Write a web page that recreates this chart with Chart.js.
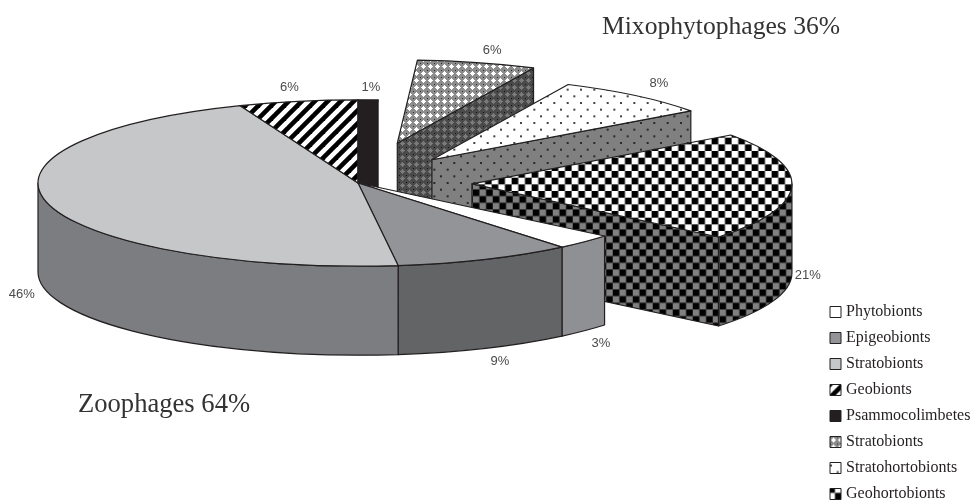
<!doctype html>
<html>

<head>
	<title>Trophic groups</title>
	<script src="https://cdnjs.cloudflare.com/ajax/libs/Chart.js/4.4.1/chart.umd.min.js"></script>
	<style>
	html, body { margin: 0; padding: 0; background: #fff; }
	canvas { display: block; }
	</style>
</head>

<body>
	<canvas id="canvas" width="972" height="501"></canvas>
	<script>
		const categories = ["Phytobionts", "Epigeobionts", "Stratobionts", "Geobionts", "Psammocolimbetes", "Stratobionts", "Stratohortobionts", "Geohortobionts"];
		const shares = [3, 9, 46, 6, 1, 6, 8, 21];
		const explode = [0, 0, 0, 0, 0, 158, 116, 114];
		const groupTitles = ["Mixophytophages 36%", "Zoophages 64%"];

		// flattening of the disc and thickness of the slab
		const SQUASH = 0.26;
		const WALL = 89;
		const INK = "#231f20";
		// small hand adjustments so the percentages clear the edges
		const labelNudge = [[-1, 3], [5, 0], [-2, -2], [-4, 0], [2, 2], [9, 1], [7, -1], [-9, -1]];

		function tile(size, paint) {
			const c = document.createElement("canvas");
			c.width = c.height = size;
			paint(c.getContext("2d"), size);
			return c.getContext("2d").createPattern(c, "repeat");
		}

		function checks(light, dark, shiftX, shiftY) {
			const p = tile(40, (g, s) => {
				g.fillStyle = light;
				g.fillRect(0, 0, s, s);
				g.fillStyle = dark;
				const cell = s / 6;
				for (let i = 0; i < 6; i++) {
					for (let j = 0; j < 6; j++) {
						if ((i + j) % 2 == 0) g.fillRect(i * cell, j * cell, cell, cell);
					}
				}
			});
			p.setTransform(new DOMMatrix().translate(shiftX, shiftY));
			return p;
		}

		function dots(back, dot) {
			return tile(40, (g, s) => {
				g.fillStyle = back;
				g.fillRect(0, 0, s, s);
				g.fillStyle = dot;
				const step = s / 3;
				for (let i = 0; i < 6; i++) {
					for (let j = 0; j < 6; j++) {
						if ((i + j) % 2 == 0) g.fillRect(i * step / 2, j * step / 2 + 2, 2, 2);
					}
				}
			});
		}

		function lattice(back, cross, dot) {
			return tile(7, g => {
				g.fillStyle = back;
				g.fillRect(0, 0, 7, 7);
				g.fillStyle = cross;
				g.fillRect(2, 2, 3, 3);
				g.fillRect(3, 1, 1, 5);
				g.fillRect(1, 3, 5, 1);
				g.fillStyle = dot;
				g.fillRect(0, 0, 1, 1);
			});
		}

		const stripes = tile(13, g => {
			g.fillStyle = "#fff";
			g.fillRect(0, 0, 13, 13);
			g.strokeStyle = "#000";
			g.lineWidth = 4.6;
			[-13, 0, 13].forEach(o => {
				g.beginPath();
				g.moveTo(o - 3, 16);
				g.lineTo(o + 16, -3);
				g.stroke();
			});
		});

		const topFills = ["#ffffff", "#939498", "#c6c7c9", stripes, INK, lattice("#8c8c8c", "#ffffff", "#2a2a2a"), dots("#ffffff", "#444"), checks("#ffffff", "#000", 11.6, 11)];
		const wallFills = ["#8f9094", "#636466", "#7c7d80", "#444", INK, lattice("#4a4a4a", "#7a7a7a", "#111"), dots("#808080", "#2a2a2a"), checks("#808080", "#000", 12.7, 9.4)];

		function discPath(ctx, s, start, end) {
			ctx.beginPath();
			ctx.moveTo(s.cx, s.cy);
			ctx.ellipse(s.cx, s.cy, s.rx, s.ry, 0, start, end);
			ctx.closePath();
		}

		function paintShape(ctx, fill) {
			ctx.fillStyle = fill;
			ctx.fill();
			ctx.stroke();
		}

		function drawFace(ctx, s, angle, fill) {
			const x = s.cx + s.rx * Math.cos(angle);
			const y = s.cy + s.ry * Math.sin(angle);
			ctx.beginPath();
			ctx.moveTo(s.cx, s.cy);
			ctx.lineTo(x, y);
			ctx.lineTo(x, y + WALL);
			ctx.lineTo(s.cx, s.cy + WALL);
			ctx.closePath();
			paintShape(ctx, fill);
		}

		// outer rim, only the part of it that faces the viewer
		function drawRim(ctx, s, fill) {
			for (let k = -2; k <= 2; k++) {
				const from = Math.max(s.start, k * 2 * Math.PI);
				const to = Math.min(s.end, k * 2 * Math.PI + Math.PI);
				if (to <= from) continue;
				ctx.beginPath();
				ctx.ellipse(s.cx, s.cy, s.rx, s.ry, 0, from, to);
				ctx.ellipse(s.cx, s.cy + WALL, s.rx, s.ry, 0, to, from, true);
				ctx.closePath();
				paintShape(ctx, fill);
			}
		}

		function sliceShape(arc) {
			const mid = (arc.startAngle + arc.endAngle) / 2;
			const off = arc.options.offset;
			return {
				mid: mid,
				start: arc.startAngle,
				end: arc.endAngle,
				cx: arc.x + Math.cos(mid) * off,
				cy: arc.y + Math.sin(mid) * off * SQUASH,
				rx: arc.outerRadius,
				ry: arc.outerRadius * SQUASH
			};
		}

		function drawLegend(ctx) {
			ctx.font = "16px 'Liberation Serif'";
			ctx.textAlign = "left";
			ctx.textBaseline = "middle";
			categories.forEach((name, i) => {
				const y = 312 + i * 26;
				ctx.save();
				// keeps each swatch's pattern anchored to its own corner
				ctx.translate(830, y - 5.5);
				ctx.fillStyle = topFills[i];
				ctx.fillRect(0, 0, 11, 11);
				ctx.strokeRect(0, 0, 11, 11);
				ctx.restore();
				ctx.fillStyle = INK;
				ctx.fillText(name, 846, y);
			});
		}

		const pie3d = {
			id: "pie3d",
			beforeDatasetsDraw(chart) {
				const ctx = chart.ctx;
				const arcs = chart.getDatasetMeta(0).data;
				const parts = arcs.map((arc, i) => Object.assign(sliceShape(arc), {i: i, off: arc.options.offset}));

				ctx.save();
				ctx.strokeStyle = INK;
				ctx.lineWidth = 1.2;
				ctx.lineJoin = "round";

				// pulled out slices sit behind the main disc, back ones first
				parts.filter(p => p.off > 0).forEach(p => {
					drawFace(ctx, p, p.end, wallFills[p.i]);
					drawRim(ctx, p, wallFills[p.i]);
					discPath(ctx, p, p.start, p.end);
					paintShape(ctx, topFills[p.i]);
				});

				const main = parts.filter(p => p.off == 0);
				main.forEach(p => {
					if (Math.cos(p.end) > 0) drawFace(ctx, p, p.end, wallFills[p.i]);
				});
				main.forEach(p => drawRim(ctx, p, wallFills[p.i]));
				main.forEach(p => {
					discPath(ctx, p, p.start, p.end);
					paintShape(ctx, topFills[p.i]);
				});

				// percentage labels
				ctx.font = "13px 'Liberation Sans'";
				ctx.fillStyle = "#4a4a4c";
				ctx.textAlign = "center";
				ctx.textBaseline = "middle";
				parts.forEach(p => {
					const x = p.cx + (p.rx + 25) * Math.cos(p.mid);
					let y = p.cy + (p.ry + 14) * Math.sin(p.mid);
					if (Math.sin(p.mid) > 0) y += WALL;
					ctx.fillText(shares[p.i] + "%", x + labelNudge[p.i][0], y + labelNudge[p.i][1]);
				});

				ctx.fillStyle = "#333";
				ctx.textAlign = "left";
				ctx.font = "25.6px 'Liberation Serif'";
				ctx.fillText(groupTitles[0], 602, 27);
				ctx.font = "26.6px 'Liberation Serif'";
				ctx.fillText(groupTitles[1], 78, 405);

				ctx.lineWidth = 1;
				drawLegend(ctx);
				ctx.restore();
				return false;
			}
		};

		new Chart(document.getElementById("canvas"), {
			type: "pie",
			plugins: [pie3d],
			data: {
				labels: categories,
				datasets: [{
					data: shares,
					backgroundColor: topFills,
					borderColor: INK,
					borderWidth: 1,
					offset: explode
				}]
			},
			options: {
				responsive: false,
				animation: false,
				events: [],
				radius: 320,
				// the black slice starts at twelve o'clock
				rotation: -shares.slice(0, 4).reduce((a, b) => a + b, 0) * 3.6,
				layout: {padding: {right: 256, bottom: 135}},
				plugins: {
					tooltip: {enabled: false},
					legend: {display: false}
				}
			}
		});
	</script>
</body>
</html>
